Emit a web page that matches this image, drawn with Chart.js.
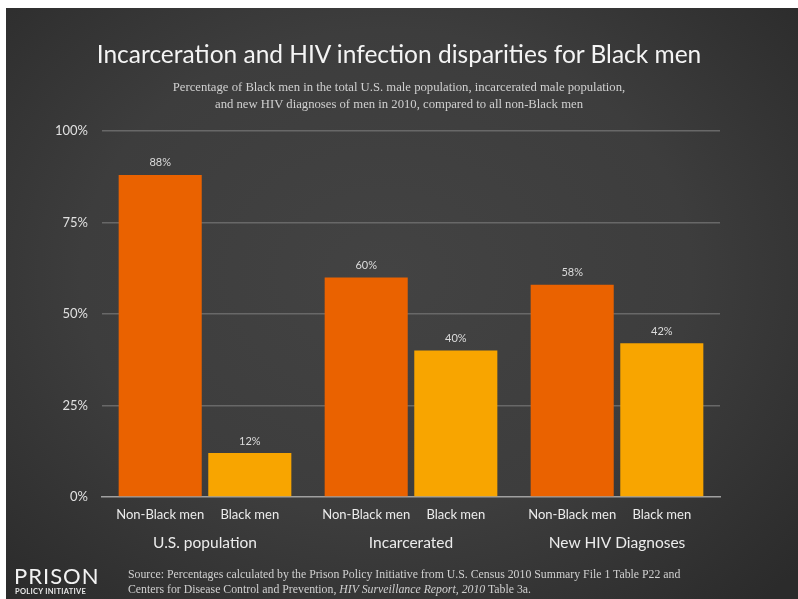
<!DOCTYPE html>
<html>
<head>
<meta charset="utf-8">
<script src="https://cdn.jsdelivr.net/npm/chart.js@4"></script>
<style>
  html, body { margin: 0; padding: 0; background: #fff; }
  #frame {
    position: absolute; left: 6px; top: 8px; width: 792px; height: 591px;
    background: radial-gradient(ellipse 70% 75% at 48% 45%, #434343 0%, #3d3d3d 55%, #2b2b2b 100%);
    overflow: hidden;
  }
  .title { position: absolute; left: 0; width: 798px; top: 39px; text-align: center;
    font-family: Lato, sans-serif; font-size: 24.5px; color: #f4f4f4; }
  .sub { position: absolute; left: 0; width: 798px; top: 79px; text-align: center;
    font-family: "Liberation Serif", serif; font-size: 12.7px; line-height: 16.5px; color: #d0d0d0; }
  .source { position: absolute; left: 128px; top: 567px;
    font-family: "Liberation Serif", serif; font-size: 11.8px; line-height: 15px; color: #d0d0d0; }
  .logo1 { position: absolute; left: 14px; top: 565px; font-family: Lato, sans-serif;
    font-size: 22px; letter-spacing: 1px; color: #f2f2f2; line-height: 22px; }
  .logo2 { position: absolute; left: 15px; top: 587px; font-family: Lato, sans-serif; font-weight: bold;
    font-size: 7.5px; letter-spacing: 0.3px; color: #e8e8e8; }
</style>
</head>
<body>
<div id="frame"></div>
<canvas id="chart" width="798" height="599" style="position:absolute;left:0;top:0;"></canvas>
<div class="title">Incarceration and HIV infection disparities for Black men</div>
<div class="sub">Percentage of Black men in the total U.S. male population, incarcerated male population,<br>and new HIV diagnoses of men in 2010, compared to all non-Black men</div>
<div class="logo1">PRISON</div>
<div class="logo2">POLICY INITIATIVE</div>
<div class="source">Source: Percentages calculated by the Prison Policy Initiative from U.S. Census 2010 Summary File 1 Table P22 and<br>Centers for Disease Control and Prevention, <i>HIV Surveillance Report, 2010</i> Table 3a.</div>
<script>
var groups = ['U.S. population', 'Incarcerated', 'New HIV Diagnoses'];
var seriesNames = ['Non-Black men', 'Black men'];
var nonBlackMen = [88, 60, 58];
var blackMen = [12, 40, 42];
var yTicks = [0, 25, 50, 75, 100];

// value labels over the bars + sub labels under each bar
var barText = {
    id: 'barText',
    afterDatasetsDraw: function(chart) {
        var c = chart.ctx;
        var bottom = chart.chartArea.bottom;
        c.save();
        c.textAlign = 'center';
        c.textBaseline = 'middle';
        chart.data.datasets.forEach(function(ds, i) {
            chart.getDatasetMeta(i).data.forEach(function(bar, j) {
                c.fillStyle = '#dcdcdc';
                c.font = '11px Lato';
                c.fillText(ds.data[j] + '%', bar.x, bar.y - 12);
                c.fillStyle = '#ececec';
                c.font = '13px Lato';
                c.fillText(ds.label, bar.x, bottom + 18);
            });
        });
        c.restore();
    }
};

var ctx = document.getElementById('chart');
var chart = new Chart(ctx, {
    type: 'bar',
    data: {
        labels: groups,
        datasets: [{
            label: seriesNames[0],
            data: nonBlackMen,
            backgroundColor: '#EA6200'
        }, {
            label: seriesNames[1],
            data: blackMen,
            backgroundColor: '#F8A500'
        }]
    },
    options: {
        responsive: false,
        animation: false,
        categoryPercentage: 0.87,
        barPercentage: 0.927,
        layout: { padding: { left: 40, right: 78, top: 131, bottom: 30 } },
        plugins: {
            legend: { display: false },
            tooltip: { enabled: false }
        },
        scales: {
            x: {
                grid: { display: false },
                border: { color: '#a0a0a0', width: 1.5 },
                ticks: { color: '#ececec', font: { family: 'Lato', size: 15.5 }, padding: 29 },
                afterFit: function(s) { s.height = 72; }
            },
            y: {
                min: 0,
                max: 100,
                afterBuildTicks: function(s) { s.ticks = yTicks.map(function(v) { return { value: v }; }); },
                afterFit: function(s) { s.width = 62; },
                grid: {
                    color: function(c) { return c.tick && c.tick.value === 0 ? 'rgba(0,0,0,0)' : '#686868'; },
                    lineWidth: 1.5,
                    drawTicks: false
                },
                border: { display: false },
                ticks: {
                    color: '#e0e0e0',
                    font: { family: 'Lato', size: 13 },
                    padding: 14,
                    callback: function(v) { return v + '%'; }
                }
            }
        }
    },
    plugins: [barText]
});
</script>
</body>
</html>
